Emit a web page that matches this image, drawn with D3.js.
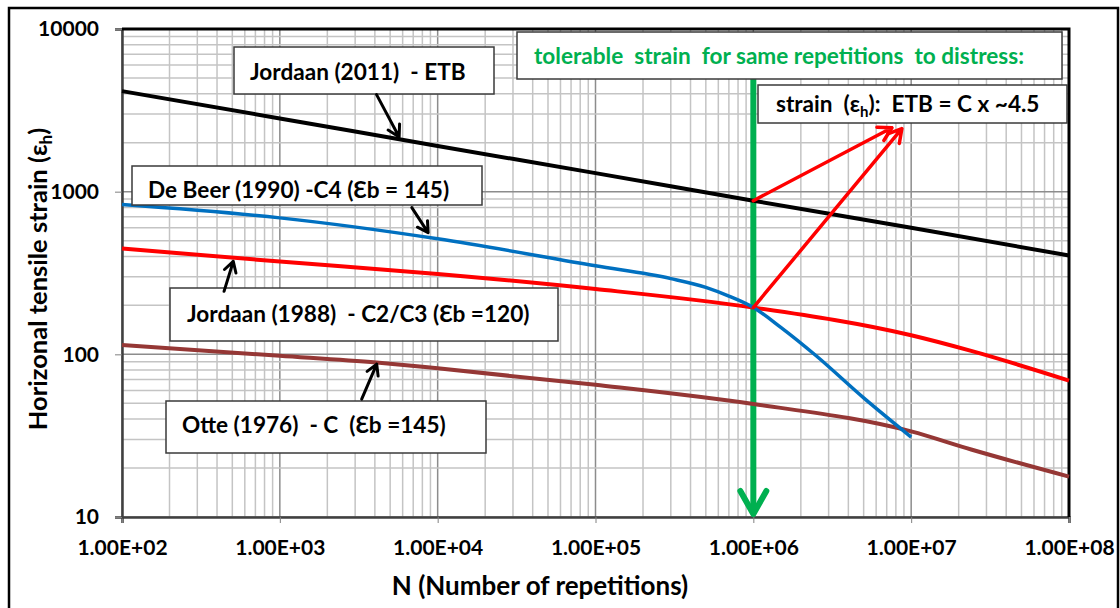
<!DOCTYPE html>
<html>
  <head>
    <script src="https://d3js.org/d3.v7.min.js"></script>
    <style>
      body { margin: 0; background: #fff; }
      text { font-family: Lato, "Open Sans", sans-serif; font-weight: bold; white-space: pre; }
    </style>
  </head>
  <body>
    <div id="chart">
      <svg width="1120" height="608"></svg>
    </div>

    <script>
      // curves: [N, horizontal tensile strain]
      const jordaan2011 = [[1e2, 4150], [1e3, 2820], [1e4, 1910], [1e5, 1300], [1e6, 880], [1e7, 600], [1e8, 405]];
      const deBeer1990 = [[1e2, 833], [1e3, 690], [1e4, 513], [1e5, 350], [3e5, 292], [5e5, 258], [7e5, 228], [1e6, 194],
                          [1.5e6, 146], [2.5e6, 98], [5e6, 54], [1e7, 31]];
      const jordaan1988 = [[1e2, 447], [1e3, 372], [1e4, 312], [1e5, 252], [1e6, 194], [1e7, 131], [2.4e7, 105], [1e8, 69]];
      const otte1976 = [[1e2, 114], [1e3, 98], [4.1e3, 89], [1e4, 82], [1e5, 65], [1e6, 49.5], [1e7, 33.6], [2.4e7, 26], [1e8, 17.7]];

      const xTickValues = [1e2, 1e3, 1e4, 1e5, 1e6, 1e7, 1e8];
      const xTickLabels = ['1.00E+02', '1.00E+03', '1.00E+04', '1.00E+05', '1.00E+06', '1.00E+07', '1.00E+08'];
      const yTickValues = [10, 100, 1000, 10000];
      const yTickLabels = ['10', '100', '1000', '10000'];

      const series = [
        { data: jordaan2011, color: '#000000', width: 4 },
        { data: jordaan1988, color: '#ff0000', width: 4 },
        { data: otte1976, color: '#953735', width: 4 },
        { data: deBeer1990, color: '#0070c0', width: 3.5 }
      ];

      // pointer arrows: from / to in data space
      const pointers = [
        { from: [4.1e3, 3950], to: [5.7e3, 2170], color: '#000', w: 3, head: 13 },
        { from: [6.86e3, 798], to: [8.7e3, 560], color: '#000', w: 3, head: 12 },
        { from: [443, 244], to: [507, 373], color: '#000', w: 3, head: 12 },
        { from: [3.3e3, 53], to: [4.11e3, 87], color: '#000', w: 3, head: 12 },
        { from: [1e6, 880], to: [7.55e6, 2470], color: '#ff0000', w: 3.5, head: 15 },
        { from: [1e6, 194], to: [8.73e6, 2440], color: '#ff0000', w: 3.5, head: 15 }
      ];

      const svg = d3.select('#chart').select('svg');

      svg.append('rect')
        .attr('x', 9).attr('y', 8).attr('width', 1109).attr('height', 620)
        .attr('fill', 'none').attr('stroke', '#000').attr('stroke-width', 2.5);

      const x = d3.scaleLog().domain([1e2, 1e8]).range([122, 1069]);
      const y = d3.scaleLog().domain([10, 1e4]).range([517, 29]);

      const isMajor = v => Math.abs(Math.log10(v) - Math.round(Math.log10(v))) < 1e-9;

      // grid
      const grid = svg.append('g');
      grid.selectAll('line.vx')
        .data(x.ticks())
        .join('line')
        .attr('x1', d => x(d)).attr('x2', d => x(d))
        .attr('y1', 29).attr('y2', 517)
        .attr('stroke', d => isMajor(d) ? '#8c8c8c' : '#c4c4c4')
        .attr('stroke-width', 1.5);
      grid.selectAll('line.hy')
        .data(y.ticks())
        .join('line')
        .attr('y1', d => y(d)).attr('y2', d => y(d))
        .attr('x1', 122).attr('x2', 1069)
        .attr('stroke', d => isMajor(d) ? '#8c8c8c' : '#c4c4c4')
        .attr('stroke-width', 1.5);

      // axes
      const xAxis = d3.axisBottom(x).tickValues(xTickValues)
        .tickFormat((d, i) => xTickLabels[i]).tickSize(6).tickPadding(20);
      const gx = svg.append('g').attr('transform', 'translate(0,517)').call(xAxis);
      gx.select('.domain').attr('stroke', '#404040').attr('stroke-width', 2.5);
      gx.selectAll('.tick line').attr('stroke', '#808080');
      gx.selectAll('.tick text').attr('font-size', 21).attr('fill', '#000')
        .attr('font-family', 'Lato').attr('dy', '0.55em');

      const yAxis = d3.axisLeft(y).tickValues(yTickValues)
        .tickFormat((d, i) => yTickLabels[i]).tickSize(7).tickPadding(16);
      const gy = svg.append('g').attr('transform', 'translate(122,0)').call(yAxis);
      gy.select('.domain').attr('stroke', '#404040').attr('stroke-width', 2.5);
      gy.selectAll('.tick line').attr('stroke', '#808080');
      gy.selectAll('.tick text').attr('font-size', 21).attr('fill', '#000')
        .attr('font-family', 'Lato');

      // top and right frame
      svg.append('path')
        .attr('d', `M122,29H1069V517`)
        .attr('fill', 'none').attr('stroke', '#000').attr('stroke-width', 3);

      // green arrow at 1e6
      const gxPos = x(1e6);
      svg.append('line')
        .attr('x1', gxPos).attr('x2', gxPos)
        .attr('y1', 79).attr('y2', y(10) - 3)
        .attr('stroke', '#00b050').attr('stroke-width', 6);
      svg.append('path')
        .attr('d', `M${gxPos - 13},${y(10) - 26}L${gxPos},${y(10) - 3}L${gxPos + 13},${y(10) - 26}`)
        .attr('fill', 'none').attr('stroke', '#00b050').attr('stroke-width', 6)
        .attr('stroke-linecap', 'round').attr('stroke-linejoin', 'round');

      // curves
      const line = d3.line()
        .x(d => x(d[0]))
        .y(d => y(d[1]))
        .curve(d3.curveMonotoneX);

      svg.append('g').selectAll('path')
        .data(series)
        .join('path')
        .attr('d', d => line(d.data))
        .attr('fill', 'none')
        .attr('stroke', d => d.color)
        .attr('stroke-width', d => d.width)
        .attr('stroke-linejoin', 'round');

      // label boxes
      function addLabel(x0, y0, w, h, tx, ty, color) {
        const g = svg.append('g');
        g.append('rect')
          .attr('x', x0).attr('y', y0).attr('width', w).attr('height', h)
          .attr('fill', '#fff').attr('stroke', '#3a3a3a').attr('stroke-width', 1.5);
        return g.append('text')
          .attr('x', tx).attr('y', ty)
          .attr('font-size', 22.6)
          .attr('fill', color || '#000');
      }

      addLabel(234, 47, 260, 47, 250, 80).text('Jordaan (2011)  - ETB');
      addLabel(517, 32, 545, 47, 534, 64, '#00b050').text('tolerable  strain  for same repetitions  to distress:');

      const st = addLabel(758, 85, 309, 38, 776, 112);
      st.append('tspan').text('strain  (ε');
      st.append('tspan').attr('font-size', 15).attr('dy', 5).text('h');
      st.append('tspan').attr('dy', -5).text('):  ETB = C x ~4.5');

      addLabel(132, 166, 350, 39, 148, 198).text('De Beer (1990) -C4 (Ɛb = 145)');
      addLabel(170, 288, 388, 53, 187, 322).text('Jordaan (1988)  - C2/C3 (Ɛb =120)');
      addLabel(166, 401, 320, 52, 182, 433).text('Otte (1976)  - C  (Ɛb =145)');

      // pointer arrows
      pointers.forEach(p => {
        const x1 = x(p.from[0]), y1 = y(p.from[1]);
        const x2 = x(p.to[0]), y2 = y(p.to[1]);
        const a = Math.atan2(y2 - y1, x2 - x1);
        const s = Math.PI / 6;
        const hx1 = x2 - p.head * Math.cos(a - s), hy1 = y2 - p.head * Math.sin(a - s);
        const hx2 = x2 - p.head * Math.cos(a + s), hy2 = y2 - p.head * Math.sin(a + s);
        svg.append('path')
          .attr('d', `M${x1},${y1}L${x2},${y2}M${hx1},${hy1}L${x2},${y2}L${hx2},${hy2}`)
          .attr('fill', 'none')
          .attr('stroke', p.color)
          .attr('stroke-width', p.w)
          .attr('stroke-linecap', 'round')
          .attr('stroke-linejoin', 'round');
      });

      // axis titles
      svg.append('text')
        .attr('x', 540).attr('y', 595)
        .attr('text-anchor', 'middle')
        .attr('font-size', 26)
        .text('N (Number of repetitions)');

      const yt = svg.append('text')
        .attr('transform', 'translate(47,279) rotate(-90)')
        .attr('text-anchor', 'middle')
        .attr('font-size', 25.5);
      yt.append('tspan').text('Horizonal tensile strain (ε');
      yt.append('tspan').attr('font-size', 17).attr('dy', 5).text('h');
      yt.append('tspan').attr('dy', -5).text(')');
    </script>
  </body>
</html>
